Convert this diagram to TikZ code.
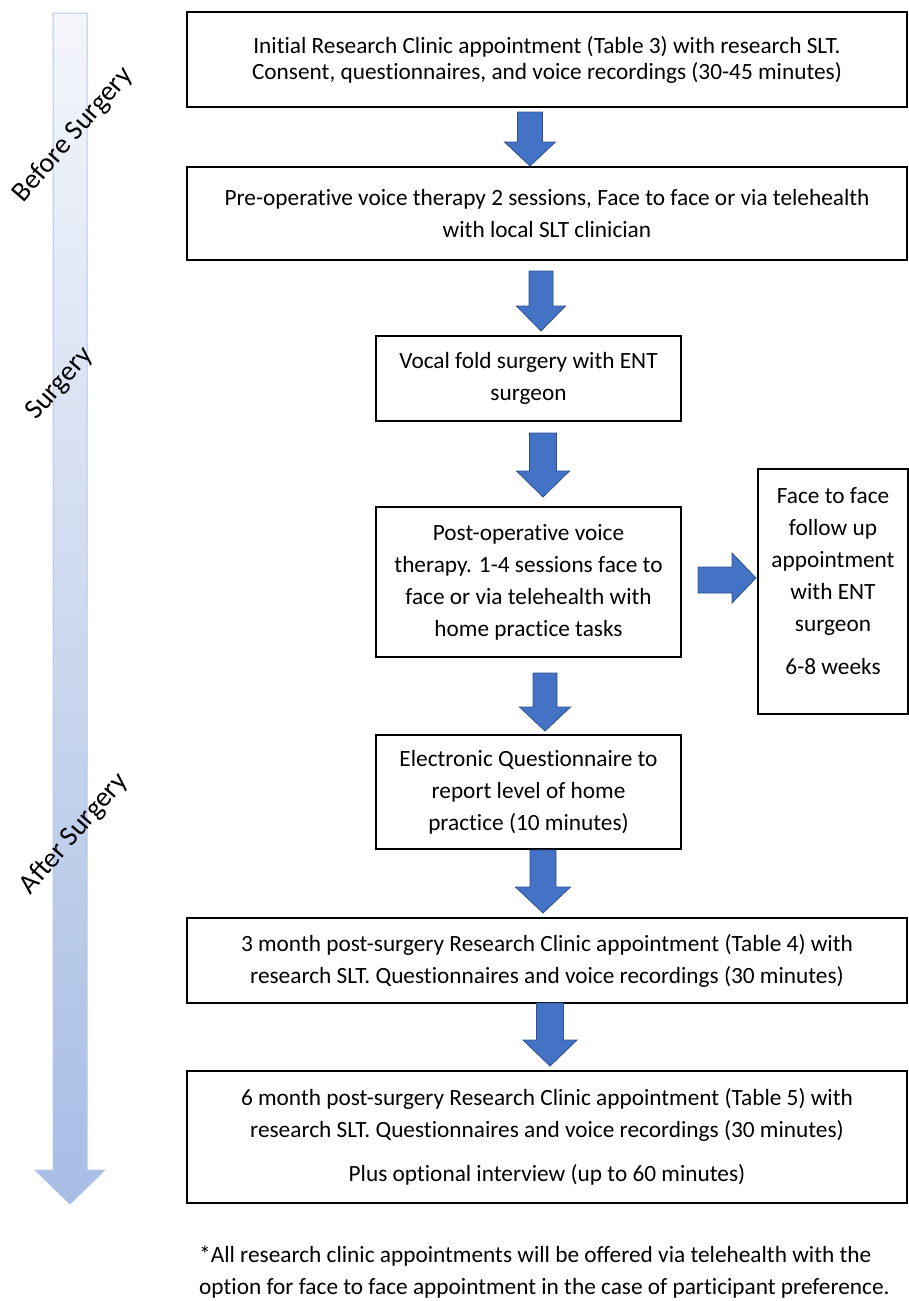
\documentclass[tikz,border=0pt]{standalone}
\usepackage{fontspec}
\setmainfont{Carlito}
\usetikzlibrary{calc}
\newcommand\tI{t\kern0pt i}
\definecolor{arrowblue}{HTML}{4472C4}
\definecolor{arrowedge}{HTML}{2F528F}
\definecolor{bigtop}{HTML}{F4F6FB}
\definecolor{bigbot}{HTML}{A7BDE4}
\definecolor{bigedge}{HTML}{B4C7E7}
\tikzset{
  stepbox/.style={draw=black, line width=1.4pt, inner sep=0pt, align=center,
    font=\fontsize{23.3}{32}\selectfont},
  blockarrow/.style={fill=arrowblue, draw=arrowedge, line width=0.8pt, line join=miter},
  phase/.style={font=\fontsize{28}{32}\selectfont, rotate=49},
}
% #1 cx, #2 top, #3 head start, #4 tip, #5 shaft half width, #6 head half width
\newcommand\blockdown[6]{%
  \path[blockarrow] (#1-#5,#2) -- (#1+#5,#2) -- (#1+#5,#3) -- (#1+#6,#3) -- (#1,#4)
    -- (#1-#6,#3) -- (#1-#5,#3) -- cycle;}
\begin{document}
\begin{tikzpicture}[x=1pt,y=-1pt]
\useasboundingbox (0,0) rectangle (909,1301);

% big timeline arrow
\shadedraw[top color=bigtop, bottom color=bigbot, draw=bigedge, line width=1pt]
  (53,13) -- (87,13) -- (87,1170) -- (105,1170) -- (70,1204) -- (35,1170) -- (53,1170) -- cycle;
\node[phase] (lb) at (73,135) {Before Surgery};
\node[phase] (ls) at (60,384) {Surgery};
\node[phase] (la) at (74,834) {After Surgery};

% boxes
\node[stepbox, minimum width=720pt, minimum height=95pt, font=\fontsize{23.3}{26}\selectfont] (b1) at (547,59.5)
  {Ini\tI al Research Clinic appointment (Table 3) with research SLT.\\Consent, ques\tI onnaires, and voice recordings (30-45 minutes)};
\node[stepbox, minimum width=720pt, minimum height=93pt] (b2) at (547,213.5)
  {Pre-opera\tI ve voice therapy 2 sessions, Face to face or via telehealth\\with local SLT clinician};
\node[stepbox, minimum width=305pt, minimum height=85pt] (b3) at (528.5,378.5)
  {Vocal fold surgery with ENT\\surgeon};
\node[stepbox, minimum width=305pt, minimum height=150pt] (b4) at (528.5,582)
  {Post-opera\tI ve voice\\therapy. 1-4 sessions face to\\face or via telehealth with\\home prac\tI ce tasks};
\node[stepbox, minimum width=305pt, minimum height=114pt] (b5) at (528.5,792)
  {Electronic Ques\tI onnaire to\\report level of home\\prac\tI ce (10 minutes)};
\node[stepbox, minimum width=720pt, minimum height=85pt] (b6) at (547,960.5)
  {3 month post-surgery Research Clinic appointment (Table 4) with\\research SLT. Ques\tI onnaires and voice recordings (30 minutes)};
\node[stepbox, minimum width=720pt, minimum height=132pt] (b7) at (547,1137)
  {6 month post-surgery Research Clinic appointment (Table 5) with\\research SLT. Ques\tI onnaires and voice recordings (30 minutes)\\[12pt]Plus op\tI onal interview (up to 60 minutes)};
\node[stepbox, minimum width=150pt, minimum height=245pt] (rb) at (833,591.5) {};
\node[align=center, font=\fontsize{23.3}{32}\selectfont, inner sep=0pt] (rt) at ($(rb.center)+(0,-10)$)
  {Face to face\\follow up\\appointment\\with ENT\\surgeon\\[11pt]6-8 weeks};

% block arrows
\blockdown{530}{112}{142}{166}{12.5}{25.5}
\blockdown{541}{271}{306}{331}{12}{24.5}
\blockdown{543}{433}{471}{497}{13.5}{26.5}
\blockdown{545}{673}{707}{731}{12}{25.5}
\blockdown{543}{850}{887}{913}{13}{27.5}
\blockdown{550}{1003}{1040}{1066}{13.5}{27}
\path[blockarrow] (698,567) -- (732,567) -- (732,553) -- (756,578) -- (732,603) -- (732,593) -- (698,593) -- cycle;

% footnote
\node[anchor=west, align=left, font=\fontsize{23.3}{32}\selectfont, inner sep=0pt] (fn) at (199,1272)
  {*All research clinic appointments will be offered via telehealth with the\\op\tI on for face to face appointment in the case of par\tI cipant preference.};
\end{tikzpicture}
\end{document}
